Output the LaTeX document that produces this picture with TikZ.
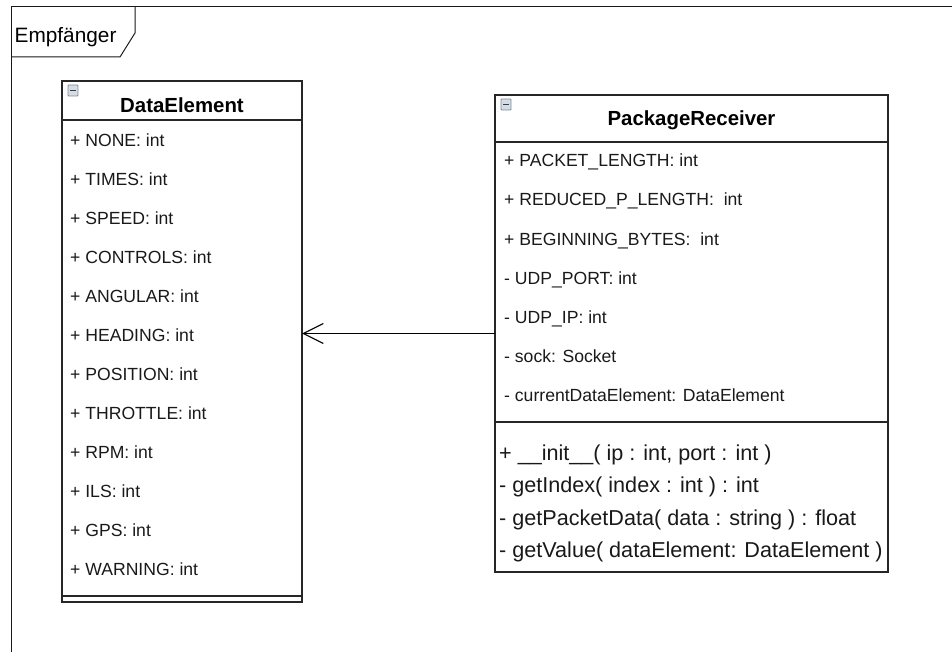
\documentclass[tikz,border=0pt]{standalone}
\usepackage{fontspec}
\setmainfont{Liberation Sans}
\usetikzlibrary{arrows.meta}
\definecolor{iconfill}{HTML}{D5DCE4}
\definecolor{iconedge}{HTML}{7D8A98}
\definecolor{icondash}{HTML}{3A3F45}
\begin{document}
\begin{tikzpicture}[x=1pt,y=-1pt,
  attr/.style={anchor=base west, inner sep=0pt, text=black!90, font=\fontsize{17.6}{20}\selectfont},
  meth/.style={anchor=base west, inner sep=0pt, text=black!90, font=\fontsize{21.6}{24}\selectfont},
  hdr/.style={anchor=base, inner sep=0pt, text=black, font=\bfseries\fontsize{20.4}{24}\selectfont},
  umlbox/.style={draw=black!85, line width=1.3pt, anchor=north west, inner sep=0pt, outer sep=0pt},
  sepline/.style={draw=black!85, line width=1.3pt},
  frameline/.style={draw=black!90, line width=1pt},
  iconbox/.style={draw=iconedge, fill=iconfill, line width=0.9pt, rounded corners=0.8pt},
  icondashline/.style={draw=icondash, line width=1.6pt},
  assoc/.style={draw=black, line width=1.2pt, -{Straight Barb[length=20pt,width=20pt,line width=1.2pt]}}
]
\useasboundingbox (0,0) rectangle (952,652);

% frame
\draw[frameline] (11,652) -- (11,7) -- (952,7);
\draw[frameline] (11,57) -- (120,57) -- (135,33) -- (135,7);
\node[anchor=base west, inner sep=0pt, font=\fontsize{20.8}{24}\selectfont] (frametitle) at (14.5,43) {Empfänger};

% DataElement
\node[umlbox, minimum width=240pt, minimum height=521pt] (de) at (62,81) {};
\draw[sepline] (62,120) -- (302,120);
\draw[sepline] (62,596) -- (302,596);
\draw[iconbox] (68,85) rectangle (78,96);
\draw[icondashline] (70.3,90.5) -- (75.7,90.5);
\node[hdr] (dehdr) at (182,113) {DataElement};
\node[attr] (de1) at (70,146.5) {+ NONE: int};
\node[attr] (de2) at (70,185.5) {+ TIMES: int};
\node[attr] (de3) at (70,224.5) {+ SPEED: int};
\node[attr] (de4) at (70,263.5) {+ CONTROLS: int};
\node[attr] (de5) at (70,302.5) {+ ANGULAR: int};
\node[attr] (de6) at (70,341.5) {+ HEADING: int};
\node[attr] (de7) at (70,380.5) {+ POSITION: int};
\node[attr] (de8) at (70,419.5) {+ THROTTLE: int};
\node[attr] (de9) at (70,458.5) {+ RPM: int};
\node[attr] (de10) at (70,497.5) {+ ILS: int};
\node[attr] (de11) at (70,536.5) {+ GPS: int};
\node[attr] (de12) at (70,575.5) {+ WARNING: int};

% PackageReceiver
\node[umlbox, minimum width=393pt, minimum height=477pt] (pr) at (495,95) {};
\draw[sepline] (495,142) -- (888,142);
\draw[sepline] (495,422) -- (888,422);
\draw[iconbox] (501,99) rectangle (511,110);
\draw[icondashline] (503.3,104.5) -- (508.7,104.5);
\node[hdr] (prhdr) at (691.5,126) {PackageReceiver};
\node[attr] (pr1) at (504,166.5) {+ PACKET\_LENGTH: int};
\node[attr] (pr2) at (504,205.5) {+ REDUCED\_P\_LENGTH:\ \ int};
\node[attr] (pr3) at (504,245) {+ BEGINNING\_BYTES:\ \ int};
\node[attr] (pr4) at (504,284.5) {- UDP\_PORT: int};
\node[attr] (pr5) at (504,323.5) {- UDP\_IP: int};
\node[attr] (pr6) at (504,362.5) {- sock: Socket};
\node[attr] (pr7) at (504,401.5) {- currentDataElement: DataElement};
\node[meth] (pm1) at (499,460.5) {+ \_\_init\_\_( ip : int, port : int )};
\node[meth] (pm2) at (499,492.5) {- getIndex( index : int ) : int};
\node[meth] (pm3) at (499,525.5) {- getPacketData( data : string ) : float};
\node[meth] (pm4) at (499,557.5) {- getValue( dataElement: DataElement )};

% association
\draw[assoc] (pr.west) -- (de.east |- pr.west);
\end{tikzpicture}
\end{document}
